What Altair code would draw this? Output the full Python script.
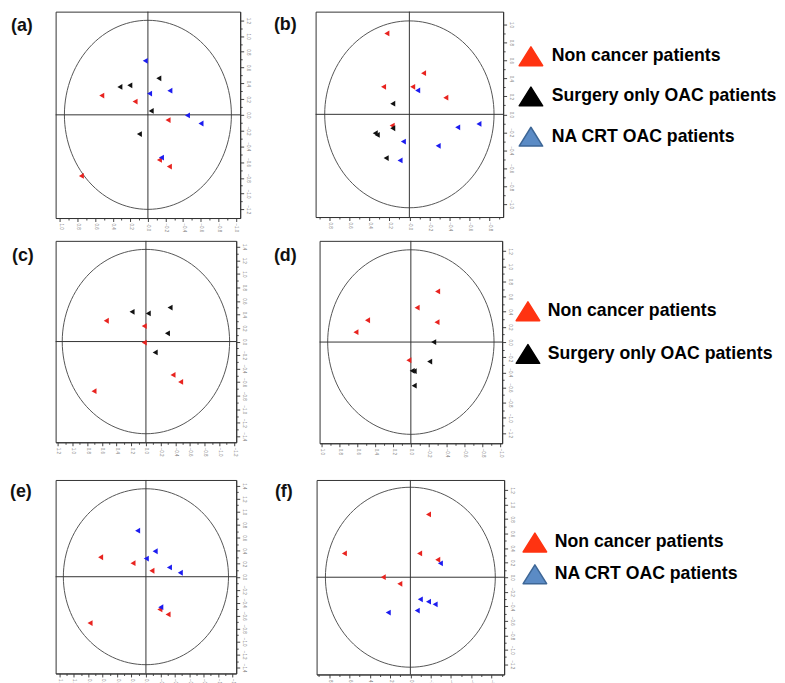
import altair as alt
import pandas as pd

NON = "Non cancer patients"
SUR = "Surgery only OAC patients"
CRT = "NA CRT OAC patients"

# ---------------- panel (a) ----------------
a_non_x = [0.525, 0.146, -0.229, -0.131, -0.244, 0.757]
a_non_y = [0.244, 0.168, -0.067, -0.573, -0.657, -0.775]
a_sur_x = [-0.124, 0.206, 0.319, -0.037, 0.097]
a_sur_y = [0.463, 0.375, 0.354, 0.05, -0.244]
a_crt_x = [0.03, -0.019, -0.25, -0.45, -0.604, -0.154]
a_crt_y = [0.686, 0.27, 0.307, -0.008, -0.11, -0.543]

# ---------------- panel (b) ----------------
b_non_x = [0.225, -0.142, 0.258, -0.033, -0.364, 0.172]
b_non_y = [0.90, 0.458, 0.306, 0.306, 0.185, -0.125]
b_sur_x = [0.166, 0.166, 0.341, 0.321, 0.232]
b_sur_y = [0.118, -0.155, -0.21, -0.229, -0.487]
b_crt_x = [-0.083, -0.483, -0.695, 0.06, -0.288, 0.093]
b_crt_y = [0.266, -0.144, -0.107, -0.303, -0.35, -0.513]

# ---------------- panel (c) ----------------
c_non_x = [0.54, 0.023, 0.023, -0.369, -0.473, 0.707]
c_non_y = [0.307, 0.229, -0.015, -0.493, -0.595, -0.732]
c_sur_x = [-0.329, 0.189, -0.032, -0.293, -0.126]
c_sur_y = [0.502, 0.439, 0.415, 0.122, -0.161]

# ---------------- panel (d) ----------------
d_non_x = [-0.30, -0.07, 0.486, -0.293, 0.616, 0.022]
d_non_y = [0.668, 0.454, 0.288, 0.262, 0.131, -0.24]
d_sur_x = [-0.256, -0.211, -0.015, -0.037, -0.037]
d_sur_y = [0.0, -0.258, -0.38, -0.384, -0.576]

# ---------------- panel (e) ----------------
e_non_x = [0.628, 0.179, -0.083, -0.193, -0.307, 0.775]
e_non_y = [0.30, 0.209, 0.092, -0.504, -0.58, -0.713]
e_crt_x = [0.115, -0.128, -0.005, -0.326, -0.477, -0.206]
e_crt_y = [0.708, 0.392, 0.28, 0.143, 0.061, -0.468]

# ---------------- panel (f) ----------------
f_non_x = [-1.79, 6.50, -0.91, -2.70, 2.67, 1.04]
f_non_y = [0.865, 0.328, 0.328, 0.241, 0.0, -0.091]
f_crt_x = [-2.96, -0.98, -1.79, -2.44, -0.68, 2.18]
f_crt_y = [0.191, -0.305, -0.337, -0.373, -0.46, -0.487]

# axis tick values (major ticks labelled, minor ticks in between)
ticks_10 = [round(i * 0.1, 1) for i in range(-10, 11)]
ticks_12 = [round(i * 0.1, 1) for i in range(-12, 13)]
ticks_14 = [round(i * 0.1, 1) for i in range(-14, 15)]
ticks_f_x = [-9, -8, -7, -6, -5, -4, -3, -2, -1, 0, 1, 2, 3, 4, 5, 6, 7, 8, 9]

RED = "#e8231f"
BLACK = "#111111"
BLUE = "#1c1cf0"
STEEL = "#1f6fbe"

LEG_RED = "#ff3311"
LEG_BLACK = "#000000"
LEG_BLUE = "#5b8bc5"
LEG_BLUE_EDGE = "#3d6696"

TRI = "M0,-0.8L1,0.8L-1,0.8Z"
FONT = "Liberation Sans"


def make_df(groups):
    rows = []
    for name, xs, ys in groups:
        for x, y in zip(xs, ys):
            rows.append({"group": name, "x": x, "y": y})
    return pd.DataFrame(rows)


def make_axis(orient, values, test, fmt_expr):
    return alt.Axis(
        orient=orient, values=values, title=None, grid=False,
        labelAngle=90, labelFontSize=4.5, labelColor="#808080", labelFont=FONT,
        labelExpr=f"({test}) ? {fmt_expr} : ''",
        tickSize={"condition": {"test": test, "value": 3.5}, "value": 2},
        tickColor="#444444", domainColor="#333333", labelPadding=1.5,
        labelOverlap=False, labelFlush=False,
    )


def panel(groups, cmap, smap, xdom, ydom, xvals, yvals, xtest, ytest, xfmt,
          rx, ry, w, h, label, lx, ly):
    df = make_df(groups)
    xs = alt.Scale(domain=xdom, nice=False, zero=False)
    ys = alt.Scale(domain=ydom, nice=False, zero=False)
    xa = make_axis("bottom", xvals, xtest, xfmt)
    ya = make_axis("right", yvals, ytest, "format(datum.value, '.1f')")

    circ = alt.Chart(alt.sequence(0, 361, 3, as_="t")).transform_calculate(
        cx=f"{rx}*cos(datum.t*PI/180)", cy=f"{ry}*sin(datum.t*PI/180)"
    ).mark_line(color="#555555", strokeWidth=1).encode(
        x=alt.X("cx:Q", scale=xs, axis=xa),
        y=alt.Y("cy:Q", scale=ys, axis=ya),
        order="t:Q",
    )
    zero = pd.DataFrame({"v": [0]})
    vr = alt.Chart(zero).mark_rule(color="#333333", strokeWidth=1).encode(
        x=alt.X("v:Q", scale=xs, axis=xa))
    hr = alt.Chart(zero).mark_rule(color="#333333", strokeWidth=1).encode(
        y=alt.Y("v:Q", scale=ys, axis=ya))
    names = list(cmap.keys())
    pts = alt.Chart(df).mark_point(shape="triangle-left", filled=True, opacity=1).encode(
        x=alt.X("x:Q", scale=xs, axis=xa),
        y=alt.Y("y:Q", scale=ys, axis=ya),
        color=alt.Color("group:N", scale=alt.Scale(domain=names, range=[cmap[n] for n in names]), legend=None),
        size=alt.Size("group:N", scale=alt.Scale(domain=names, range=[smap[n] for n in names]), legend=None),
    )
    lab = alt.Chart(pd.DataFrame({"lab": [label]})).mark_text(
        align="left", baseline="middle", fontSize=18, fontWeight="bold",
        font=FONT, color="#111111",
    ).encode(x=alt.value(lx), y=alt.value(ly), text="lab:N")
    return alt.layer(circ, vr, hr, pts, lab).properties(width=w, height=h)


def legend(labels, fills, strokes, yrange, sym_x, txt_x, h):
    df = pd.DataFrame({"label": labels})
    ysc = alt.Scale(type="point", domain=labels, range=yrange, padding=0)
    sym = alt.Chart(df).mark_point(shape=TRI, filled=True, opacity=1, size=560,
                                   strokeWidth=1.5, strokeJoin="round").encode(
        y=alt.Y("label:N", scale=ysc, axis=None),
        x=alt.value(sym_x),
        fill=alt.Fill("label:N", scale=alt.Scale(domain=labels, range=fills), legend=None),
        stroke=alt.Stroke("label:N", scale=alt.Scale(domain=labels, range=strokes), legend=None),
    )
    txt = alt.Chart(df).mark_text(align="left", baseline="middle", font=FONT, fontSize=17.8,
                                  fontWeight="bold", color="#000000").encode(
        y=alt.Y("label:N", scale=ysc, axis=None),
        x=alt.value(txt_x),
        text="label:N",
    )
    return alt.layer(sym, txt).properties(width=200, height=h,
                                          view=alt.ViewBackground(strokeOpacity=0))


T01 = "abs(round(datum.value*10)) % 2 === 0"
T1 = "abs(round(datum.value)) % 2 === 0"
F1 = "format(datum.value, '.1f')"
F1neg = "(datum.value === 0 ? '-0.0' : format(datum.value, '.1f'))"
Fint = "format(datum.value, 'd')"

cm3 = {NON: RED, SUR: BLACK, CRT: BLUE}
sm3 = {NON: 34, SUR: 34, CRT: 36}

pa = panel([(NON, a_non_x, a_non_y), (SUR, a_sur_x, a_sur_y), (CRT, a_crt_x, a_crt_y)],
           cm3, sm3, [1.05, -1.05], [-1.31, 1.31], ticks_10, ticks_12, T01, T01, F1neg,
           0.95, 1.2, 186, 208, "(a)", -45, 14.5)
pb = panel([(NON, b_non_x, b_non_y), (SUR, b_sur_x, b_sur_y), (CRT, b_crt_x, b_crt_y)],
           cm3, sm3, [0.937, -0.937], [-1.143, 1.143], ticks_10[1:-1], ticks_10, T01, T01, F1neg,
           0.846, 1.04, 189, 207, "(b)", -42, 13.5)
pc = panel([(NON, c_non_x, c_non_y), (SUR, c_sur_x, c_sur_y)],
           {NON: RED, SUR: BLACK}, {NON: 36, SUR: 34}, [1.23, -1.23], [-1.486, 1.486],
           ticks_12, ticks_14, T01, T01, F1,
           1.14, 1.36, 182, 203, "(c)", -44, 15)
pd_ = panel([(NON, d_non_x, d_non_y), (SUR, d_sur_x, d_sur_y)],
            {NON: RED, SUR: BLACK}, {NON: 36, SUR: 34}, [1.024, -1.024], [-1.336, 1.336],
            ticks_10, ticks_12, T01, T01, F1,
            0.933, 1.218, 184, 204, "(d)", -46, 15.5)
pe = panel([(NON, e_non_x, e_non_y), (CRT, e_crt_x, e_crt_y)],
           {NON: RED, CRT: STEEL}, {NON: 30, CRT: 64}, [1.252, -1.252], [-1.489, 1.489],
           ticks_12, ticks_14, T01, T01, F1,
           1.145, 1.354, 182, 195, "(e)", -46, 12)
pf = panel([(NON, f_non_x, f_non_y), (CRT, f_crt_x, f_crt_y)],
           {NON: RED, CRT: BLUE}, {NON: 40, CRT: 40}, [9.24, -9.24], [-1.34, 1.34],
           ticks_f_x, ticks_12, T1, T01, Fint,
           8.37, 1.24, 189, 196, "(f)", -42, 12)

leg1 = legend([NON, SUR, CRT], [LEG_RED, LEG_BLACK, LEG_BLUE], [LEG_RED, LEG_BLACK, LEG_BLUE_EDGE],
              [45, 126], 16, 37, 200)
leg2 = legend([NON, SUR], [LEG_RED, LEG_BLACK], [LEG_RED, LEG_BLACK],
              [71, 114], 13, 33, 200)
leg3 = legend([NON, CRT], [LEG_RED, LEG_BLUE], [LEG_RED, LEG_BLUE_EDGE],
              [63, 95], 20, 40, 190)

row1 = alt.hconcat(pa, alt.hconcat(pb, leg1, spacing=12, bounds="flush"), spacing=76, bounds="flush")
row2 = alt.hconcat(pc, alt.hconcat(pd_, leg2, spacing=13, bounds="flush"), spacing=84, bounds="flush")
row3 = alt.hconcat(pe, alt.hconcat(pf, leg3, spacing=11, bounds="flush"), spacing=81, bounds="flush")

chart = alt.vconcat(
    alt.vconcat(row1, row2, spacing=7),
    row3, spacing=21,
).properties(
    padding={"left": 1, "top": 0, "right": 0, "bottom": 0},
).configure_view(stroke="#333333", strokeWidth=1)

chart.save("out.html", embed_options={"renderer": "svg", "actions": False})
